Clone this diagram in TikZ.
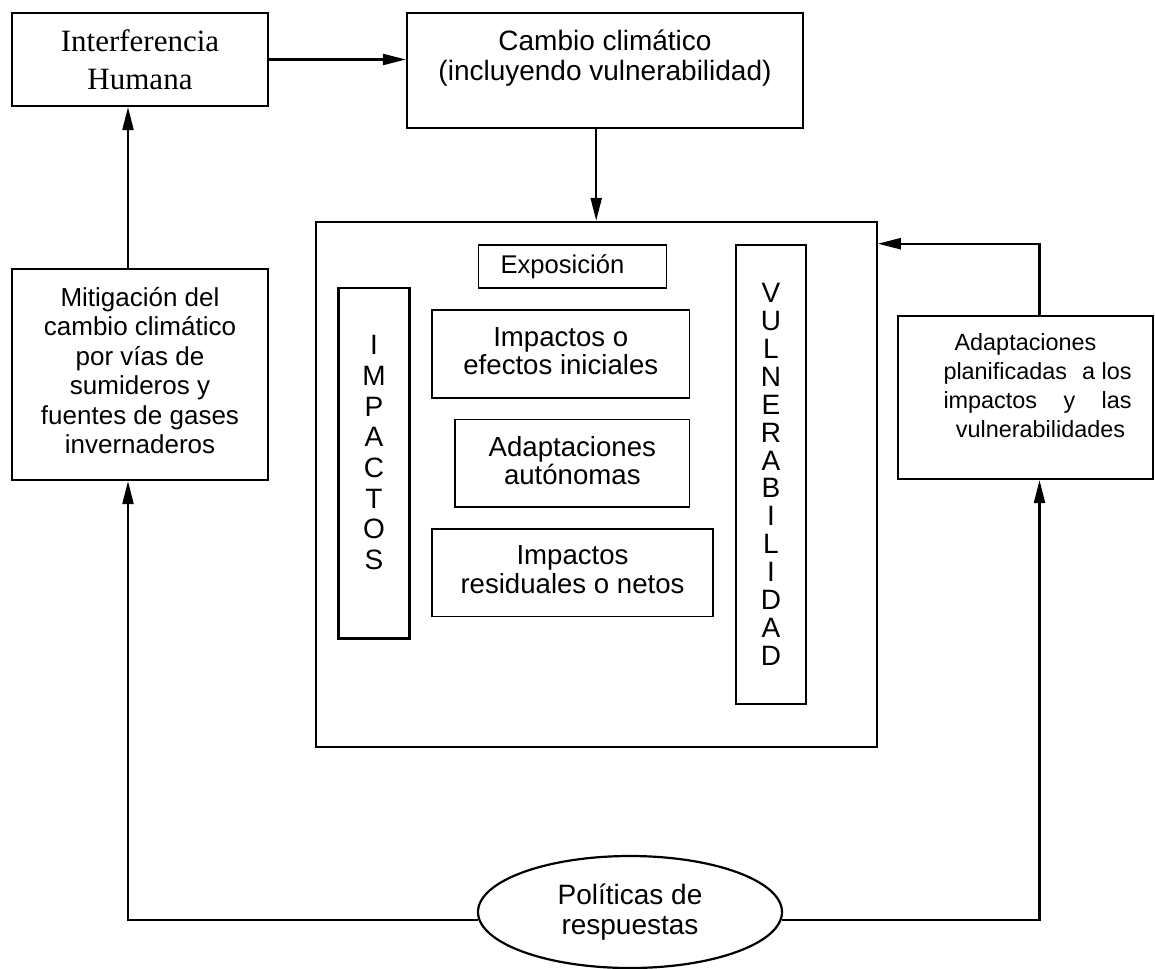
\documentclass[tikz,border=0pt]{standalone}
\usepackage{fontspec}
\setmainfont{Liberation Sans}
\newfontfamily\timesf{Liberation Serif}
\usetikzlibrary{arrows.meta,shapes.geometric}
\begin{document}
\begin{tikzpicture}[x=0.5pt,y=-0.5pt,
  box/.style={draw,line width=1.1pt,inner sep=0pt,align=center},
  ibox/.style={draw,line width=0.8pt,inner sep=0pt,align=center},
  arr/.style={line width=1.1pt,-{Triangle[length=11.5pt,width=5.5pt]}},
  txtA/.style={font=\fontsize{13.8}{14.3}\selectfont}]
\useasboundingbox (0,0) rectangle (1155,968);

\node[box, minimum width=128pt, minimum height=46.5pt, font=\timesf\fontsize{15.5}{19}\selectfont] (inter) at (140,59.5) {Interferencia\\Humana};
\node[box, minimum width=198pt, minimum height=57.5pt, font=\fontsize{14}{15}\selectfont] (cambio) at (605,70.5) {Cambio climático\\(incluyendo vulnerabilidad)\\\mbox{}};
\node[box, minimum width=128pt, minimum height=105.5pt, font=\fontsize{13}{14.7}\selectfont] (mitig) at (140,374.5) {Mitigación del\\cambio climático\\por vías de\\sumideros y\\fuentes de gases\\invernaderos\\[-10.7pt]\mbox{}};
\node[box, minimum width=127.5pt, minimum height=81.5pt, font=\fontsize{11.7}{14.5}\selectfont] (adapt) at (1025.5,397.5) {Adaptaciones\\\hspace*{12pt}\makebox[94pt]{planificadas\hfill a los}\\\hspace*{12pt}\makebox[94pt]{impactos\hfill y\hfill las}\\\hspace*{15pt}vulnerabilidades\\[-3pt]\mbox{}};

\node[box, minimum width=280.5pt, minimum height=262.5pt] (big) at (596.2,484.4) {};
\node[ibox, minimum width=94pt, minimum height=21.65pt, font=\fontsize{12.8}{14}\selectfont] (expo) at (572.4,266.5) {Exposición\hspace*{10pt}};
\node[box, minimum width=35.5pt, minimum height=175.25pt, font=\fontsize{14}{15.35}\selectfont] (imp) at (374,463.3) {I\\M\\P\\A\\C\\T\\O\\S\\[-4.65pt]\mbox{}};
\node[ibox, txtA, minimum width=128.8pt, minimum height=43.9pt] (ini) at (560.8,353.9) {Impactos o\\efectos iniciales\\[-11.3pt]\mbox{}};
\node[ibox, txtA, minimum width=117.3pt, minimum height=43.7pt] (auto) at (572.3,463.3) {Adaptaciones\\autónomas\\[-11.3pt]\mbox{}};
\node[ibox, txtA, minimum width=140.5pt, minimum height=43.65pt] (resid) at (572.5,572.7) {Impactos\\residuales o netos\\[-11.3pt]\mbox{}};
\node[box, minimum width=35pt, minimum height=229.6pt, font=\fontsize{14}{13.95}\selectfont] (vuln) at (771,474.4) {V\\U\\L\\N\\E\\R\\A\\B\\I\\L\\I\\D\\A\\D};

\node[draw, ellipse, line width=1.1pt, minimum width=152pt, minimum height=56pt, inner sep=0pt, align=center, font=\fontsize{14}{15}\selectfont] (pol) at (630,912) {Políticas de\\respuestas};

\coordinate (cL) at (128,922);
\coordinate (cR) at (1039.5,922);

\draw[arr] (inter.east) -- (inter.east -| cambio.west);
\draw[arr] (big.north |- cambio.south) -- (big.north);
\draw[arr] (mitig.north -| cL) -- (inter.south -| cL);
\draw[arr] (adapt.north -| cR) |- (big.east |- vuln.north);
\draw[arr] (pol.183.8) -| (mitig.south -| cL);
\draw[arr] (pol.-3.8) -| (adapt.south -| cR);
\end{tikzpicture}
\end{document}
